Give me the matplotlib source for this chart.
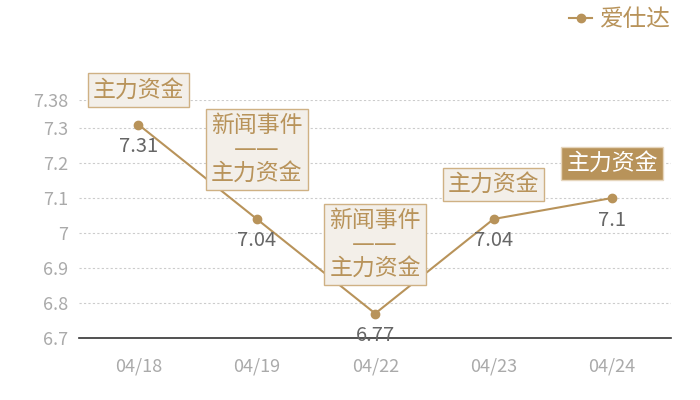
import matplotlib.pyplot as plt
import numpy as np

plt.rcParams['font.family'] = ['Noto Sans CJK SC', 'DejaVu Sans']

# data
dates = ['04/18', '04/19', '04/22', '04/23', '04/24']
prices = [7.31, 7.04, 6.77, 7.04, 7.1]
notes = ['主力资金', '新闻事件\n——\n主力资金', '新闻事件\n——\n主力资金', '主力资金', '主力资金']
highlight = [False, False, False, False, True]
yticks = [6.7, 6.8, 6.9, 7.0, 7.1, 7.2, 7.3, 7.38]
ytick_labels = ['6.7', '6.8', '6.9', '7', '7.1', '7.2', '7.3', '7.38']
series_name = '爱仕达'

GOLD = '#b8935a'
TICK = '#aaaaaa'

fig = plt.figure(figsize=(7, 4), dpi=100)
ax = fig.add_axes([0.113, 0.155, 0.846, 0.595])

x = np.arange(len(dates))
ax.plot(x, prices, color=GOLD, lw=1.5, marker='o', ms=6, label=series_name, zorder=3)

ax.set_xlim(-0.5, len(dates) - 0.5)
ax.set_ylim(6.7, 7.38)
ax.set_yticks(yticks)
ax.set_yticklabels(ytick_labels)
ax.set_xticks(x)
ax.set_xticklabels(dates)
ax.tick_params(axis='both', length=0, colors=TICK, labelsize=13)
ax.tick_params(axis='y', pad=8)
ax.tick_params(axis='x', pad=14)

for yv in yticks[1:]:
    ax.axhline(yv, color='#cccccc', lw=0.8, ls=(0, (2, 2)), zorder=1)

for s in ['top', 'right', 'left']:
    ax.spines[s].set_visible(False)
ax.spines['bottom'].set_color('#333333')
ax.spines['bottom'].set_linewidth(1.2)

# value labels under the points
for xi, p in zip(x, prices):
    ax.annotate('%g' % p, (xi, p), xytext=(0, -22), textcoords='offset pixels',
                ha='center', va='center', fontsize=14.5, color='#666666', zorder=4)

# event boxes above the points
for xi, p, n, h in zip(x, prices, notes, highlight):
    multi = '\n' in n
    off = 34 if multi else 23
    if h:
        box = dict(boxstyle='square,pad=0.22', fc=GOLD, ec='#e6d6bd', lw=1)
        tc = 'white'
    else:
        box = dict(boxstyle='square,pad=0.22', fc='#f3efe9', ec='#cfb184', lw=1)
        tc = GOLD
    ax.annotate(n, (xi, p), xytext=(0, off), textcoords='offset pixels',
                ha='center', va='bottom', fontsize=16.5, color=tc,
                family=['DejaVu Sans', 'Noto Sans CJK SC'],
                linespacing=1.05, bbox=box, zorder=5, annotation_clip=False)

fig.legend(loc='upper right', bbox_to_anchor=(0.978, 1.015), frameon=False,
           fontsize=17, labelcolor=GOLD, handlelength=1.0, handletextpad=0.3,
           borderaxespad=0.2)

fig.savefig('out.png')
